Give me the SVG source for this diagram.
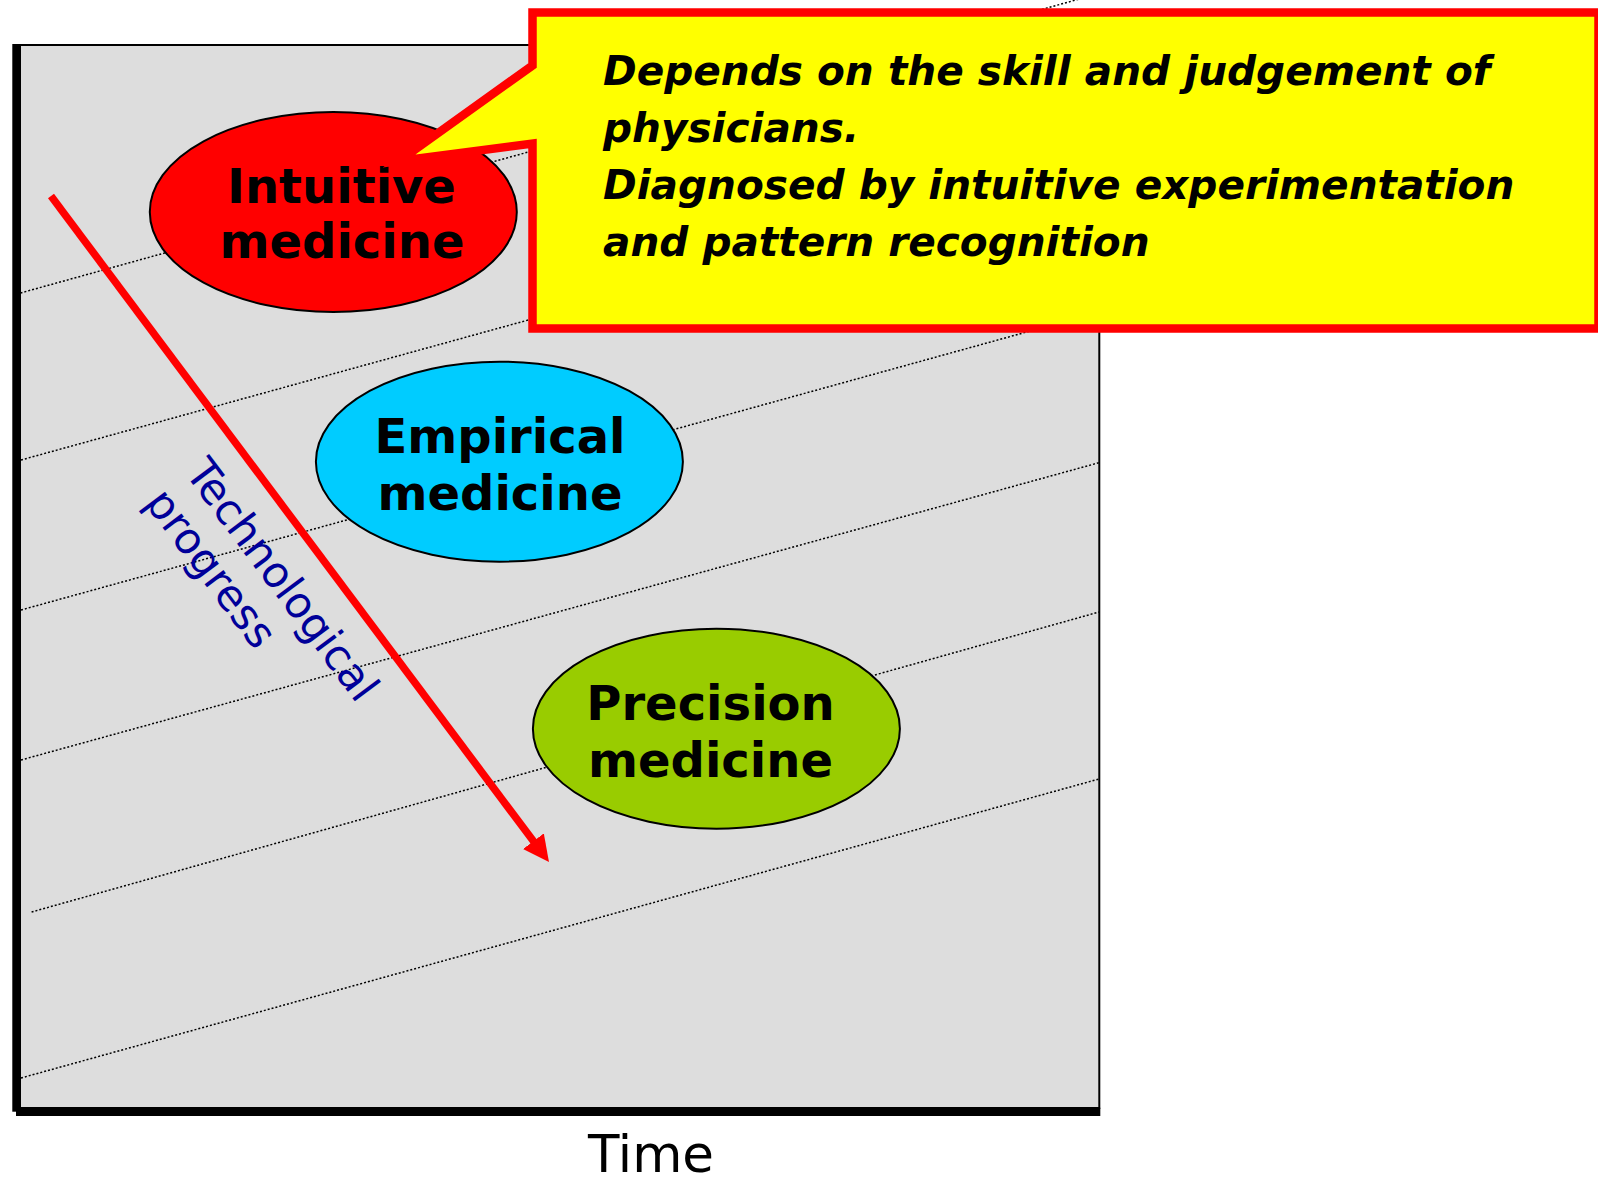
<svg xmlns="http://www.w3.org/2000/svg" width="1598" height="1178" viewBox="0 0 1598 1178">
  <style>
    .dot { stroke: #000; stroke-width: 1.5; stroke-dasharray: 2 2; fill: none; }
    .node { stroke: #000; stroke-width: 2; }
    .lbl { font-family: "DejaVu Sans", Verdana, sans-serif; font-weight: bold; font-size: 48px; fill: #000; text-anchor: middle; }
    .call { font-family: "DejaVu Sans", Verdana, sans-serif; font-weight: bold; font-style: italic; font-size: 40.6px; fill: #000; }
    .tech { font-family: "DejaVu Sans", Verdana, sans-serif; font-size: 43px; fill: #000099; }
  </style>
  <defs>
    <marker id="ah" markerUnits="userSpaceOnUse" markerWidth="26" markerHeight="26" refX="2" refY="13" orient="auto">
      <path d="M0,0 L26,13 L0,26 Z" fill="#ff0000"/>
    </marker>
  </defs>

  <g id="frame">
    <rect x="20" y="45" width="1079.3" height="1063" fill="#dddddd" stroke="#000" stroke-width="2"/>
    <rect x="12.3" y="44" width="8.4" height="1067.7" fill="#000"/>
    <rect x="16" y="1107.7" width="1084.3" height="8.3" fill="#000"/>
  </g>

  <g id="gridlines">
    <line class="dot" x1="20.5" y1="293" x2="1083" y2="-2"/>
    <line class="dot" x1="21" y1="460" x2="1099" y2="162.5"/>
    <line class="dot" x1="21" y1="610" x2="1099" y2="312"/>
    <line class="dot" x1="21" y1="760" x2="1099" y2="462.7"/>
    <line class="dot" x1="31.6" y1="912" x2="1099" y2="612"/>
    <line class="dot" x1="21" y1="1078" x2="1099" y2="779"/>
  </g>

  <g id="connectors">
    <line x1="51" y1="196" x2="534.6" y2="842.8" stroke="#ff0000" stroke-width="7.5" marker-end="url(#ah)"/>
  </g>

  <g id="tech-label">
    <text class="tech" transform="translate(183.9 472.8) rotate(53.2)">
      <tspan x="0" y="0">Technological</tspan>
      <tspan x="0" y="50">progress</tspan>
    </text>
  </g>

  <g id="intuitive">
    <ellipse class="node" cx="333.3" cy="212" rx="183.5" ry="100" fill="#ff0000"/>
    <text class="lbl" x="341.5" y="203">Intuitive</text>
    <text class="lbl" x="342" y="258">medicine</text>
  </g>

  <g id="empirical">
    <ellipse class="node" cx="499.4" cy="461.7" rx="183.5" ry="100" fill="#00ccff"/>
    <text class="lbl" x="500" y="453">Empirical</text>
    <text class="lbl" x="500" y="510">medicine</text>
  </g>

  <g id="precision">
    <ellipse class="node" cx="716.4" cy="728.7" rx="183.5" ry="100" fill="#99cc00"/>
    <text class="lbl" x="710.5" y="720">Precision</text>
    <text class="lbl" x="710.5" y="777">medicine</text>
  </g>

  <g id="callout">
    <path d="M532.5,12.5 H1598.5 V328.5 H532.5 V143.5 L399,161 L532.5,65.5 Z" fill="#ffff00" stroke="#ff0000" stroke-width="8.5" stroke-linejoin="miter" stroke-miterlimit="10"/>
    <text class="call" x="603" y="85">Depends on the skill and judgement of</text>
    <text class="call" x="603" y="142">physicians.</text>
    <text class="call" x="603" y="199">Diagnosed by intuitive experimentation</text>
    <text class="call" x="603" y="256">and pattern recognition</text>
  </g>

  <g id="time-label">
    <text x="588" y="1172" font-family="'DejaVu Sans', Verdana, sans-serif" font-size="51.5" fill="#000">Time</text>
  </g>
</svg>
